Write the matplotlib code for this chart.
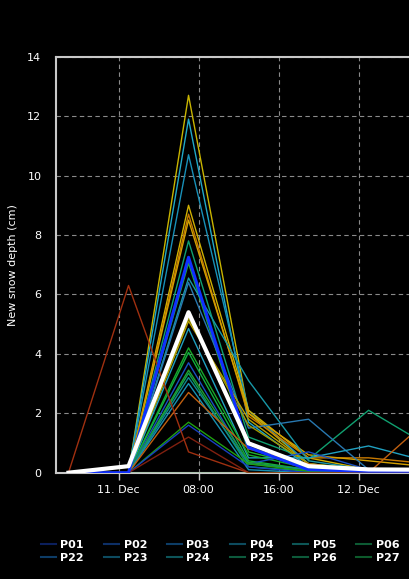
import matplotlib
matplotlib.use("Agg")
import matplotlib.pyplot as plt
from matplotlib.lines import Line2D
import numpy as np

# hours relative to 11 Dec 00:00
times = [-5, 1, 7, 13, 19, 25, 31]
tick_pos = [0, 8, 16, 24]
tick_labels = ["11. Dec", "08:00", "16:00", "12. Dec"]

# station series (new snow depth, cm)
series = [
    ("#c8b400", [0, 0, 12.7, 2.0, 0.3, 0.05, 0.05]),
    ("#20a8c8", [0, 0, 11.9, 1.7, 0.2, 0.05, 0.0]),
    ("#1890b8", [0, 0, 10.7, 2.1, 0.3, 0.1, 0.05]),
    ("#d0b000", [0, 0, 9.0, 2.1, 0.5, 0.1, 0.0]),
    ("#c87a00", [0, 0, 8.7, 1.9, 0.5, 0.5, 0.3]),
    ("#d4a000", [0, 0, 8.5, 2.0, 0.6, 0.4, 0.2]),
    ("#10a070", [0, 0, 7.8, 1.2, 0.45, 2.1, 0.9]),
    ("#20b030", [0, 0, 7.05, 0.7, 0.2, 0.05, 0.0]),
    ("#1898a8", [0, 0, 6.55, 3.1, 0.4, 0.1, 0.05]),
    ("#2878b0", [0, 0, 6.4, 1.5, 1.8, 0.1, 0.05]),
    ("#b8a000", [0, 0, 5.1, 1.8, 0.3, 0.1, 0.0]),
    ("#a09800", [0, 0, 5.2, 1.6, 0.3, 0.1, 0.0]),
    ("#20a0c0", [0, 0, 4.85, 0.5, 0.5, 0.9, 0.37]),
    ("#18a828", [0, 0, 4.2, 0.6, 0.15, 0.05, 0.0]),
    ("#10b040", [0, 0, 4.05, 0.4, 0.1, 0.0, 0.0]),
    ("#1850c0", [0, 0, 3.7, 0.3, 0.7, 0.1, 0.0]),
    ("#20a030", [0, 0, 3.45, 0.35, 0.1, 0.0, 0.0]),
    ("#10a050", [0, 0, 3.35, 0.2, 0.05, 0.0, 0.0]),
    ("#108890", [0, 0, 3.2, 0.3, 0.1, 0.0, 0.0]),
    ("#1890b0", [0, 0, 3.0, 0.1, 0.0, 0.0, 0.0]),
    ("#c06010", [0, 0, 2.7, 0.8, 0.3, 0.0, 1.8]),
    ("#20a010", [0, 0, 1.7, 0.3, 0.05, 0.0, 0.0]),
    ("#1840c0", [0, 0, 1.6, 0.2, 0.0, 0.0, 0.0]),
    ("#802010", [0, 0, 1.2, 0.0, 0.0, 0.0, 0.0]),
    ("#a03010", [0, 6.3, 0.7, 0.0, 0.0, 0.0, 0.0]),
    ("#30b040", [0, 0, 0, 0, 0, 0, 0]),
]
blue_mean = [0, 0, 7.25, 0.85, 0.1, 0.05, 0.05]
white_mean = [0, 0.22, 5.4, 0.99, 0.22, 0.11, 0.1]

legend_labels = ["P01", "P02", "P03", "P04", "P05", "P06",
                 "P22", "P23", "P24", "P25", "P26", "P27"]
legend_colors = ["#0b1f5c", "#0d2f66", "#0d3d66", "#0d4b5e", "#0d5656", "#0d5a33",
                 "#0d3c66", "#0d4b60", "#0d5459", "#0d5a3d", "#0d5a3a", "#0d5a2b"]

W, H = 410, 579
fig = plt.figure(figsize=(W / 100, H / 100), dpi=100, facecolor="black")
ax = fig.add_axes([56 / W, (H - 472.7) / H, (W - 56) / W, (472.7 - 56.7) / H])
ax.set_facecolor("black")

for col, vals in series:
    ax.plot(times, vals, color=col, lw=1.0, zorder=3)
ax.plot(times, blue_mean, color="#1030ff", lw=2.2, zorder=4)
ax.plot(times, white_mean, color="white", lw=3, zorder=5)

ax.set_xlim(-6.25, (W - 118.3) / 10.01)
ax.set_ylim(0, 14)
ax.set_yticks(np.arange(0, 15, 2))
ax.set_xticks(tick_pos)
ax.set_xticklabels(tick_labels)
ax.grid(True, color="#8a8a8a", ls=(0, (4, 3)), lw=0.8)
ax.set_axisbelow(True)

for s in ["left", "top", "bottom"]:
    ax.spines[s].set_color("#c8c8c8")
    ax.spines[s].set_linewidth(1.5)
ax.spines["right"].set_visible(False)

ax.tick_params(axis="y", length=0, pad=10.5, labelcolor="white", labelsize=8)
ax.tick_params(axis="x", length=5, width=1, color="#c8c8c8", pad=4, labelcolor="white", labelsize=8)

ax.set_ylabel("New snow depth (cm)", color="white", fontsize=8)
ax.yaxis.set_label_coords(-0.108, 0.5)

# legend: two rows, six columns (column-major fill)
handles, labels = [], []
for c in range(6):
    for r in range(2):
        i = r * 6 + c
        handles.append(Line2D([0], [0], color=legend_colors[i], lw=1.5))
        labels.append(legend_labels[i])
leg = fig.legend(handles, labels, ncol=6, frameon=False,
                 loc="center left", bbox_to_anchor=(31 / W, (H - 551.5) / H),
                 handlelength=1.35, handletextpad=0.4, columnspacing=1.8,
                 labelspacing=0.3, prop={"weight": "bold", "size": 8})
for t in leg.get_texts():
    t.set_color("white")

fig.savefig("out.png", dpi=100, facecolor="black")
